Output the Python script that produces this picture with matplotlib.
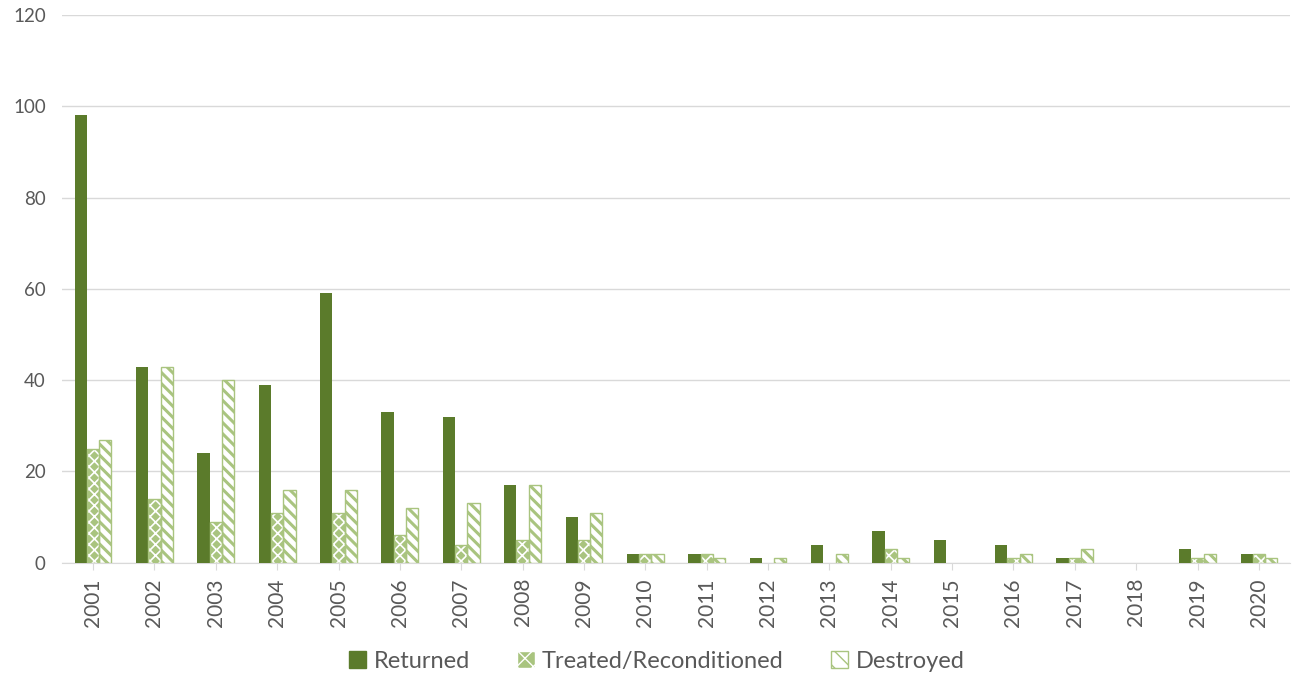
import matplotlib
matplotlib.use("Agg")
from matplotlib import pyplot as plt
from matplotlib.patches import Patch
import numpy as np

years = [str(y) for y in range(2001, 2021)]
returned = [98, 43, 24, 39, 59, 33, 32, 17, 10, 2, 2, 1, 4, 7, 5, 4, 1, 0, 3, 2]
treated = [25, 14, 9, 11, 11, 6, 4, 5, 5, 2, 2, 0, 0, 3, 0, 1, 1, 0, 1, 2]
destroyed = [27, 43, 40, 16, 16, 12, 13, 17, 11, 2, 1, 1, 2, 1, 0, 2, 3, 0, 2, 1]

dark = "#5b7b2b"
light = "#a9c47f"
grey = "#595959"

plt.rcParams['font.family'] = ['Lato', 'DejaVu Sans']

fig = plt.figure(figsize=(13, 6.83), dpi=100)
ax = fig.add_axes([0.048, 0.176, 0.944, 0.802])

x = np.arange(len(years))
w = 0.2

ax.bar(x - w, returned, w, color=dark, zorder=3)
# treated: light green with white cross pattern
with plt.rc_context({'hatch.linewidth': 1.2}):
    ax.bar(x, treated, w, color=light, edgecolor="white", hatch="xxx", linewidth=0, zorder=3)
ax.bar(x, treated, w, facecolor="none", edgecolor=light,
       linewidth=[1 if v else 0 for v in treated], zorder=4)
# destroyed: white with light green stripes
with plt.rc_context({'hatch.linewidth': 2.2}):
    ax.bar(x + w, destroyed, w, color="white", edgecolor=light, hatch="\\\\\\",
           linewidth=[1 if v else 0 for v in destroyed], zorder=3)

ax.set_xlim(-0.5, len(years) - 0.5)
ax.set_ylim(0, 120)
ax.set_yticks(range(0, 121, 20))
ax.set_xticks(x)
ax.set_xticklabels(years, rotation=90)
ax.tick_params(axis="y", length=0, labelsize=13.5, labelcolor=grey, pad=12)
ax.tick_params(axis="x", length=5, color="#d9d9d9", labelsize=15, labelcolor=grey, pad=6)
ax.grid(axis="y", color="#d9d9d9", linewidth=1, zorder=0)
for s in ["top", "right", "left"]:
    ax.spines[s].set_visible(False)
ax.spines["bottom"].set_color("#d9d9d9")

with plt.rc_context({'hatch.linewidth': 1.5}):
    handles = [
        Patch(facecolor=dark, edgecolor=dark, label="Returned"),
        Patch(facecolor=light, edgecolor="white", hatch="xx", label="Treated/Reconditioned"),
        Patch(facecolor="white", edgecolor=light, hatch="\\\\", label="Destroyed"),
    ]
fig.legend(handles=handles, loc="center", bbox_to_anchor=(0.505, 0.032), ncol=3,
           frameon=False, fontsize=17, labelcolor=grey, handlelength=0.75,
           handleheight=0.75, handletextpad=0.3, columnspacing=2.0)

fig.savefig("out.png", dpi=100)
